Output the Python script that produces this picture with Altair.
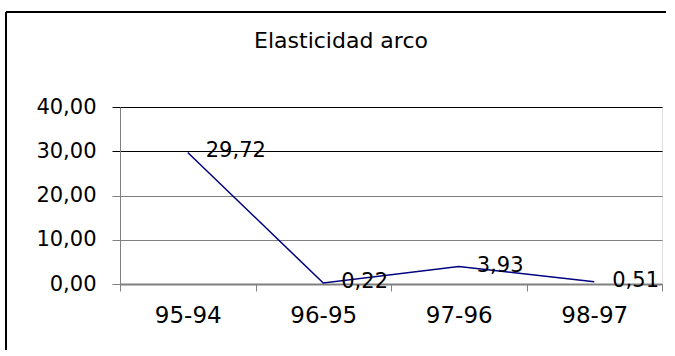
import altair as alt
import pandas as pd

# Arc elasticity by period
periods = ["95-94", "96-95", "97-96", "98-97"]
elasticity = [29.72, 0.22, 3.93, 0.51]
y_ticks = [0, 10, 20, 30, 40]

df = pd.DataFrame({"periodo": periods, "elasticidad": elasticity})

FONT = "DejaVu Sans"

base = alt.Chart(df).encode(
    x=alt.X(
        "periodo:N",
        sort=periods,
        title=None,
        scale=alt.Scale(paddingInner=0, paddingOuter=0),
        axis=alt.Axis(
            labelAngle=0,
            labelFont=FONT,
            labelFontSize=23,
            labelColor="black",
            labelPadding=13,
            tickBand="extent",
            tickSize=7,
            tickColor="#808080",
            domainColor="#808080",
            domainWidth=2,
            grid=False,
        ),
    ),
    y=alt.Y(
        "elasticidad:Q",
        title=None,
        scale=alt.Scale(domain=[0, 40], nice=False, zero=True),
        axis=alt.Axis(
            values=y_ticks,
            labelExpr="replace(format(datum.value, '.2f'), '.', ',')",
            labelFont=FONT,
            labelFontSize=21,
            labelColor="black",
            labelPadding=16,
            tickSize=8,
            tickColor={"condition": {"test": "datum.value >= 30", "value": "#000000"}, "value": "#808080"},
            domainColor="#808080",
            grid=True,
            gridColor={"condition": {"test": "datum.value >= 30", "value": "#000000"}, "value": "#808080"},
            gridOpacity=1,
            gridWidth=1,
        ),
    ),
)

line = base.mark_line(color="#000080", strokeWidth=1.5)

labels = base.transform_calculate(
    etiqueta="replace(format(datum.elasticidad, '.2f'), '.', ',')"
).mark_text(
    align="left", baseline="middle", dx=18, dy=-1, font=FONT, fontSize=21, color="black"
).encode(text="etiqueta:N")

# Outer frame of the chart area: left and top edges
frame_left = alt.Chart(df).mark_rule(color="black", strokeWidth=1.5).encode(
    x=alt.value(-114), y=alt.value(-95), y2=alt.value(249)
)
frame_top = alt.Chart(df).mark_rule(color="black", strokeWidth=1.5).encode(
    x=alt.value(-114), x2=alt.value(546), y=alt.value(-95)
)

chart = alt.layer(frame_left, frame_top, line, labels).properties(
    width=542,
    height=177,
    title=alt.TitleParams(
        "Elasticidad arco",
        font=FONT,
        fontSize=22,
        fontWeight="normal",
        color="black",
        anchor="middle",
        frame="group",
        baseline="bottom",
        offset=-64,
        dx=-50,
    ),
    autosize=alt.AutoSizeParams(type="none"),
    padding={"left": 120, "top": 107, "right": 13, "bottom": 66},
).configure_view(stroke=None).configure(background="white")

chart.save("out.html", embed_options={"renderer": "svg", "actions": False})
